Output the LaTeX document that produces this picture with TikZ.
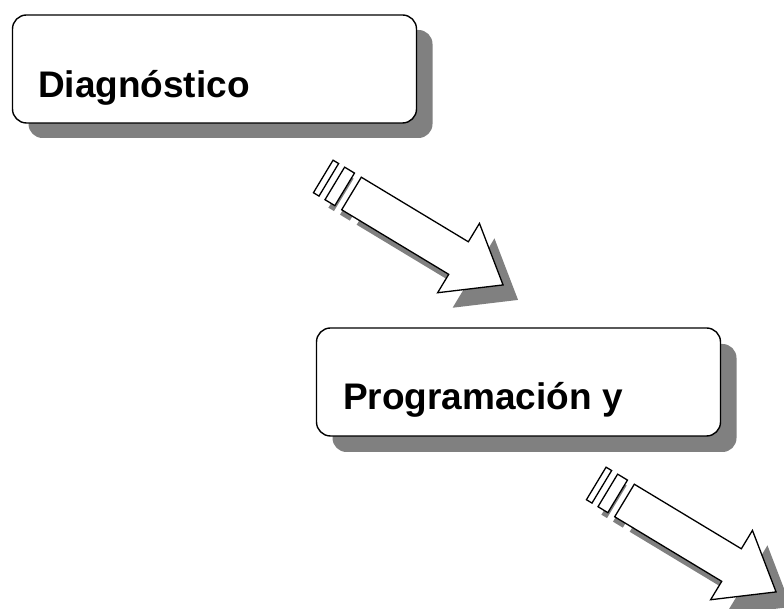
\documentclass[tikz,border=0pt]{standalone}
\usepackage{fontspec}
\setmainfont{Liberation Sans}
\usetikzlibrary{calc}
\definecolor{sombra}{HTML}{808080}
\tikzset{
  caja/.style={draw, line width=1.4pt, fill=white, rounded corners=14pt,
    minimum width=404pt, minimum height=108pt, inner sep=0pt},
  cajasombra/.style={fill=sombra, draw=none, rounded corners=14pt,
    minimum width=404pt, minimum height=108pt, inner sep=0pt},
  rotulo/.style={font=\fontsize{37}{41}\selectfont\bfseries, inner sep=0pt, anchor=base west},
  flecha/.pic={
    \path[pic actions] (-33,-19) rectangle (-26.5,19);
    \path[pic actions] (-19.5,-19) rectangle (-8,19);
    \path[pic actions] (0,-19) -- (125,-19) -- (125,-40.5) -- (177,0)
      -- (125,40.5) -- (125,19) -- (0,19) -- cycle;
  }
}
\begin{document}
\begin{tikzpicture}[x=1pt, y=1pt]
        \useasboundingbox (0,0) rectangle (784,609);

        %%%%%%%%%% Cajas %%%%%%%%%%
        \node[cajasombra] at (230.5,525) {};
        \node[caja] (diag) at (214.5,540) {};
        \node[rotulo] (tdiag) at ([xshift=26pt, yshift=-29pt]diag.west) {Diagnóstico};

        \node[cajasombra] at (534.5,211) {};
        \node[caja] (prog) at (518.5,227) {};
        \node[rotulo] (tprog) at ([xshift=27pt, yshift=-28pt]prog.west) {Programación y};

        %%%%%%%%% Flechas %%%%%%%%%
        \coordinate (f1) at (351.5,415.5);
        \coordinate (f2) at (624.5,108.5);
        \pic[fill=sombra, rotate=-31.1] at ($(f1)+(15,-15)$) {flecha};
        \pic[draw, line width=1.3pt, fill=white, rotate=-31.1] at (f1) {flecha};
        \pic[fill=sombra, rotate=-31.1] at ($(f2)+(15,-15)$) {flecha};
        \pic[draw, line width=1.3pt, fill=white, rotate=-31.1] at (f2) {flecha};
    \end{tikzpicture}
\end{document}
